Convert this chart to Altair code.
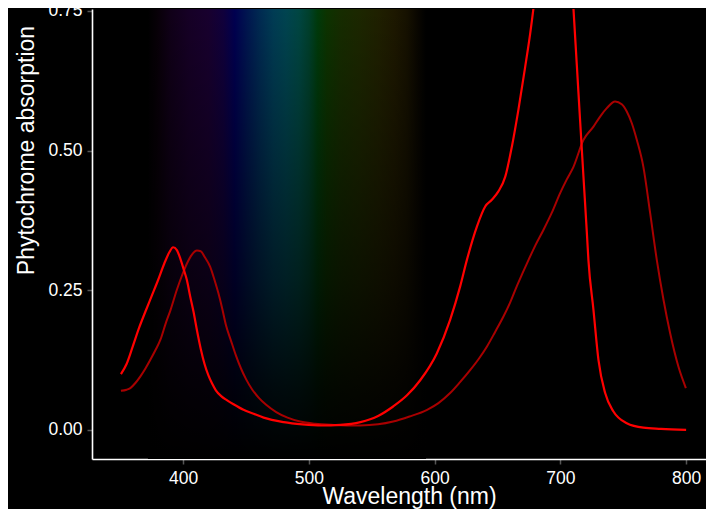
import altair as alt
import pandas as pd

# ---- data ----
pr_nm = [350.5, 355, 360, 365, 370, 375, 380, 385, 389, 392, 395, 398, 400.5, 403,
         405.6, 408.2, 411, 414, 417, 420, 423, 426, 430, 435, 440, 448, 456, 464, 480,
         495, 510, 525, 541, 555, 567, 578, 588.5, 601.7, 612.3, 620.3, 625.6, 633.6,
         640.2, 645.5, 650.7, 656.1, 661.4, 666.6, 672, 676, 681, 685, 690, 695, 700,
         705, 708, 710.4, 713.1, 715.7, 718.3, 721, 722.3, 726.3, 730.3, 735.6, 742.2,
         752.8, 766, 780, 800]
pr_abs = [0.100, 0.118, 0.150, 0.183, 0.212, 0.240, 0.268, 0.298, 0.318, 0.327, 0.322,
          0.305, 0.287, 0.268, 0.239, 0.212, 0.178, 0.145, 0.118, 0.098, 0.083, 0.071,
          0.061, 0.053, 0.046, 0.036, 0.029, 0.022, 0.014, 0.010, 0.008, 0.009, 0.014,
          0.025, 0.042, 0.062, 0.089, 0.137, 0.197, 0.257, 0.304, 0.364, 0.400, 0.412,
          0.427, 0.453, 0.507, 0.573, 0.650, 0.710, 0.800, 0.880, 0.960, 1.000, 0.990,
          0.930, 0.850, 0.754, 0.652, 0.553, 0.455, 0.355, 0.304, 0.215, 0.125, 0.066,
          0.033, 0.012, 0.004, 0.002, 0.000]

pfr_nm = [350.5, 355, 358, 362, 366, 370, 374, 378, 382, 386, 390, 395, 399, 403, 407,
          411, 414, 417, 421.5, 425, 428, 431, 434, 438, 442, 446, 450, 455, 460, 466,
          474, 483, 493, 505, 520, 541, 555, 567, 580, 594, 603, 612.3, 620, 628.2,
          635, 641.5, 648, 654.7, 660, 665.3, 670, 674.6, 680, 686.5, 693, 699.8, 705,
          710.4, 718.3, 726.3, 731.6, 736.9, 743.5, 748.8, 752.8, 756.8, 760.8, 766,
          771.4, 776.7, 782, 787.3, 793.9, 799.8]
pfr_abs = [0.070, 0.072, 0.075, 0.084, 0.096, 0.110, 0.126, 0.143, 0.162, 0.190, 0.215,
           0.251, 0.276, 0.298, 0.314, 0.321, 0.320, 0.310, 0.292, 0.268, 0.245, 0.218,
           0.188, 0.160, 0.133, 0.110, 0.091, 0.072, 0.058, 0.045, 0.032, 0.022, 0.015,
           0.011, 0.009, 0.008, 0.010, 0.015, 0.024, 0.036, 0.048, 0.066, 0.085, 0.107,
           0.127, 0.149, 0.175, 0.203, 0.228, 0.257, 0.281, 0.304, 0.330, 0.358, 0.388,
           0.424, 0.448, 0.471, 0.519, 0.543, 0.561, 0.576, 0.588, 0.583, 0.570, 0.549,
           0.519, 0.471, 0.388, 0.304, 0.233, 0.173, 0.113, 0.075]

x_ticks = [400, 500, 600, 700, 800]
y_ticks = [0.0, 0.25, 0.50, 0.75]
x_domain = [327.5, 815.8]
y_domain = [-0.052, 0.7535]

# spectral background colour stops (wavelength, colour)
spec_nm = [372, 380, 390, 405, 420, 432, 441, 452, 462, 472, 482, 492, 500, 507, 514,
           525, 540, 555, 568, 578, 586, 593]
spec_col = ["#000000", "#080008", "#100018", "#160026", "#18002e", "#10003c", "#000050",
            "#001850", "#002c52", "#003c54", "#004450", "#004642", "#00402c", "#003a0a",
            "#0c3300", "#162c00", "#1c2700", "#1f2000", "#1d1800", "#161100", "#0a0700",
            "#000000"]

# vertical fade of the spectrum (offset from top, darkness)
fade_off = [0.0, 0.6, 0.85, 1.0]
fade_alpha = [0.0, 0.55, 0.85, 1.0]

FONT = "Liberation Sans"
WHITE = "#ffffff"

pr_df = pd.DataFrame({"nm": pr_nm, "abs": pr_abs})
pfr_df = pd.DataFrame({"nm": pfr_nm, "abs": pfr_abs})
band = pd.DataFrame({"nm": [spec_nm[0]], "nm2": [spec_nm[-1]],
                     "abs": [y_domain[0]], "abs2": [y_domain[1]]})

xs = alt.Scale(domain=x_domain, nice=False, zero=False)
ys = alt.Scale(domain=y_domain, nice=False, zero=False)

x_axis = alt.Axis(values=x_ticks, title="Wavelength (nm)", grid=False,
                  domainColor=WHITE, domainWidth=1.6, tickColor="#555555",
                  tickSize=5, tickWidth=1.5, labelColor=WHITE, labelFont=FONT,
                  labelFontSize=17.5, labelPadding=5, labelFlush=False,
                  titleColor=WHITE, titleFont=FONT, titleFontSize=23,
                  titleFontWeight="normal", titleX=317, titleY=44,
                  titleBaseline="alphabetic")
y_axis = alt.Axis(values=y_ticks, format=".2f", title="Phytochrome absorption",
                  grid=False, domainColor=WHITE, domainWidth=1.6,
                  tickColor="#555555", tickSize=5, tickWidth=1.5, labelColor=WHITE,
                  labelFont=FONT, labelFontSize=17.5, labelPadding=5,
                  labelFlush=False, titleColor=WHITE, titleFont=FONT,
                  titleFontSize=23, titleFontWeight="normal", titleX=-59,
                  titleY=141, titleAngle=270, titleBaseline="alphabetic")

X = alt.X("nm:Q", scale=xs, axis=x_axis)
Y = alt.Y("abs:Q", scale=ys, axis=y_axis)

span = spec_nm[-1] - spec_nm[0]
spec_grad = alt.LinearGradient(
    gradient="linear",
    stops=[alt.GradientStop(offset=(n - spec_nm[0]) / span, color=c)
           for n, c in zip(spec_nm, spec_col)],
    x1=0, x2=1, y1=0, y2=0)
fade_grad = alt.LinearGradient(
    gradient="linear",
    stops=[alt.GradientStop(offset=o, color=f"rgba(0,0,0,{a})")
           for o, a in zip(fade_off, fade_alpha)],
    x1=0, x2=0, y1=0, y2=1)

spectrum = alt.Chart(band).mark_rect(fill=spec_grad).encode(
    x=X, x2="nm2:Q", y=Y, y2="abs2:Q")
fade = alt.Chart(band).mark_rect(fill=fade_grad).encode(
    x=X, x2="nm2:Q", y=Y, y2="abs2:Q")

pfr_line = alt.Chart(pfr_df).mark_line(
    color="#a80000", strokeWidth=2, clip=True, interpolate="monotone").encode(x=X, y=Y)
pr_line = alt.Chart(pr_df).mark_line(
    color="#ff0000", strokeWidth=2.2, clip=True, interpolate="monotone").encode(x=X, y=Y)

chart = alt.layer(spectrum, fade, pfr_line, pr_line).properties(
    width=614, height=450,
    padding={"left": 84, "top": 1, "right": 0, "bottom": 50},
    autosize=alt.AutoSizeParams(type="none"),
).configure(background="black").configure_view(stroke="transparent")

chart.save("out.html", embed_options={"renderer": "svg", "actions": False})
